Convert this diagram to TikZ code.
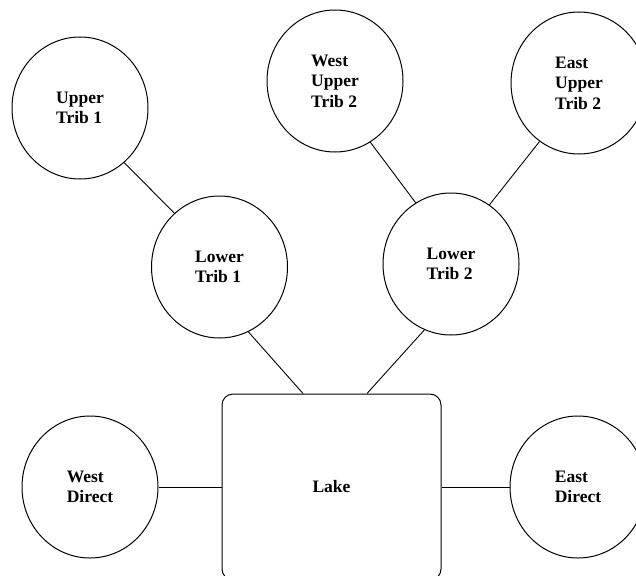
\documentclass[tikz,border=0pt]{standalone}
\usepackage{fontspec}
\setmainfont{Liberation Serif}
\usetikzlibrary{shapes.geometric}
\begin{document}
\begin{tikzpicture}[x=1pt,y=-1pt,
  basin/.style={ellipse,draw=black,line width=1pt,minimum width=136pt,minimum height=142pt,inner sep=0pt,
    align=left,font=\fontsize{17.5}{20.5}\selectfont\bfseries},
  lakebox/.style={rectangle,rounded corners=11pt,draw=black,line width=1pt,minimum width=219pt,minimum height=186pt,
    inner sep=0pt,font=\fontsize{17.5}{20.5}\selectfont\bfseries},
  link/.style={draw=black,line width=0.9pt}]
\useasboundingbox (0,0) rectangle (636,575);
\clip (0,0) rectangle (636,575);
\node[basin] (ut1) at (80,108) {Upper\\Trib 1};
\node[basin] (lt1) at (219.5,267) {Lower\\Trib 1};
\node[basin] (wut2) at (335,81) {West\\Upper\\Trib 2};
\node[basin] (eut2) at (579,83) {East\\Upper\\Trib 2};
\node[basin] (lt2) at (451,264) {Lower\\Trib 2};
\node[basin] (wd) at (90,487) {West\\Direct};
\node[basin] (ed) at (578,487) {East\\Direct};
\node[lakebox] (lake) at (331.5,487) {Lake};
\coordinate (lk1) at ([xshift=-28.5pt]lake.north);
\coordinate (lk2) at ([xshift=35.5pt]lake.north);
\draw[link] (ut1.-51) -- (lt1.130);
\draw[link] (wut2.-60) -- (lt2.120);
\draw[link] (eut2.-124) -- (lt2.57);
\draw[link] (lt1.-66) -- (lk1);
\draw[link] (lt2.-112) -- (lk2);
\draw[link] (wd) -- (lake);
\draw[link] (ed) -- (lake);
\end{tikzpicture}
\end{document}
